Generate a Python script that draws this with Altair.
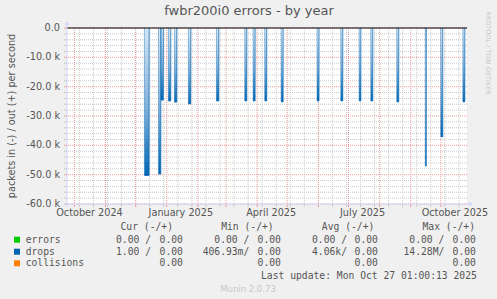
import altair as alt
import pandas as pd

# ---------------- data ----------------
spike_start = ["2024-12-09T17:00", "2024-12-23T17:00", "2024-12-26T02:00", "2025-01-02T14:00",
               "2025-01-08T14:00", "2025-01-22T12:00", "2025-02-19T10:00", "2025-03-19T16:00",
               "2025-03-28T00:00", "2025-04-08T14:00", "2025-04-24T22:00", "2025-05-30T16:00",
               "2025-06-23T08:00", "2025-07-11T14:00", "2025-07-23T05:00", "2025-08-18T02:00",
               "2025-09-15T12:00", "2025-09-30T22:00", "2025-10-22T22:00"]
spike_end = ["2024-12-14T10:00", "2024-12-26T02:00", "2024-12-28T14:00", "2025-01-05T00:00",
             "2025-01-11T00:00", "2025-01-24T22:00", "2025-02-21T20:00", "2025-03-21T16:00",
             "2025-03-30T00:00", "2025-04-10T14:00", "2025-04-26T22:00", "2025-06-01T16:00",
             "2025-06-25T08:00", "2025-07-13T08:00", "2025-07-25T05:00", "2025-08-20T02:00",
             "2025-09-16T12:00", "2025-10-02T22:00", "2025-10-24T22:00"]
drops_in = [-50200, -49700, -24500, -24800, -25200, -25800, -24800, -24800, -24800, -24800,
            -25100, -24800, -24800, -24800, -24800, -25100, -47000, -37000, -25100]

x_label_dates = ["2024-10-16", "2025-01-15", "2025-04-15", "2025-07-15", "2025-10-15"]
x_label_text = ["October 2024", "January 2025", "April 2025", "July 2025", "October 2025"]
y_ticks = [0, -10000, -20000, -30000, -40000, -50000, -60000]
y_label_text = ["0.0", "-10.0 k", "-20.0 k", "-30.0 k", "-40.0 k", "-50.0 k", "-60.0 k"]

legend_names = ["errors", "drops", "collisions"]
legend_colors = ["#00cc00", "#0066b3", "#ff8000"]
cur_in = ["0.00 /", "1.00 /", ""]
cur_out = ["0.00", "0.00", "0.00"]
min_in = ["0.00 /", "406.93m/", ""]
min_out = ["0.00", "0.00", "0.00"]
avg_in = ["0.00 /", "4.06k/", ""]
avg_out = ["0.00", "0.00", "0.00"]
max_in = ["0.00 /", "14.28M/", ""]
max_out = ["0.00", "0.00", "0.00"]
headers = ["Cur (-/+)", "Min (-/+)", "Avg (-/+)", "Max (-/+)"]
title_text = "fwbr200i0 errors - by year"
y_title = "packets in (-) / out (+) per second"
last_update = "Last update: Mon Oct 27 01:00:13 2025"
version_text = "Munin 2.0.73"
side_text = "RRDTOOL / TOBI OETIKER"

# ---------------- layout ----------------
W, H = 400, 176
L, T = 67, 28
FONT = "DejaVu Sans"
MONO = "DejaVu Sans Mono"
TXT = "#555555"
AXIS_C = "#CFD6F8"

x_domain = [alt.DateTime(year=2024, month=9, date=23, hours=15),
            alt.DateTime(year=2025, month=10, date=27, hours=1)]
xscale = alt.Scale(domain=x_domain)
yscale = alt.Scale(domain=[-60000, 0], nice=False, zero=False)

spikes = pd.DataFrame({"start": spike_start, "end": spike_end, "value": drops_in})
month_lines = pd.DataFrame({"d": pd.date_range("2024-10-01", "2025-10-01", freq="MS").strftime("%Y-%m-%d")})
week_lines = pd.DataFrame({"d": pd.date_range("2024-10-06", "2025-10-26", freq="14D").strftime("%Y-%m-%d")})
minor_y = pd.DataFrame({"v": [v for v in range(-58000, 0, 2000) if v % 10000 != 0]})
major_y = pd.DataFrame({"v": y_ticks, "label": y_label_text})
x_labels = pd.DataFrame({"d": x_label_dates, "label": x_label_text})
dummy = alt.Data(values=[{}])

layers = []

# grid
layers.append(alt.Chart(week_lines).mark_rule(color="#c8c8c8", strokeDash=[1, 1], strokeWidth=1)
              .encode(x=alt.X("d:T", scale=xscale, axis=None)))
layers.append(alt.Chart(minor_y).mark_rule(color="#c8c8c8", strokeDash=[1, 1], strokeWidth=1)
              .encode(y=alt.Y("v:Q", scale=yscale, axis=None)))
layers.append(alt.Chart(month_lines).mark_rule(color="#eb9a9a", strokeDash=[1, 1], strokeWidth=1)
              .encode(x=alt.X("d:T", scale=xscale, axis=None)))
layers.append(alt.Chart(major_y).mark_rule(color="#eb9a9a", strokeDash=[1, 1], strokeWidth=1)
              .encode(y=alt.Y("v:Q", scale=yscale, axis=None)))
# tick stubs outside the plot
layers.append(alt.Chart(week_lines).mark_rule(color="#c8c8c8")
              .encode(x=alt.X("d:T", scale=xscale, axis=None), y=alt.value(H), y2=alt.value(H + 3)))
layers.append(alt.Chart(month_lines).mark_rule(color="#eb9a9a")
              .encode(x=alt.X("d:T", scale=xscale, axis=None), y=alt.value(H), y2=alt.value(H + 3)))
layers.append(alt.Chart(minor_y).mark_rule(color="#c8c8c8")
              .encode(y=alt.Y("v:Q", scale=yscale, axis=None), x=alt.value(-3), x2=alt.value(0)))
layers.append(alt.Chart(major_y).mark_rule(color="#eb9a9a")
              .encode(y=alt.Y("v:Q", scale=yscale, axis=None), x=alt.value(-3), x2=alt.value(0)))

# axis labels
layers.append(alt.Chart(major_y).mark_text(font=FONT, fontSize=9.7, color=TXT, align="right", baseline="middle")
              .encode(y=alt.Y("v:Q", scale=yscale, axis=None), x=alt.value(-7), text="label:N"))
layers.append(alt.Chart(x_labels).mark_text(font=FONT, fontSize=9.7, color=TXT, align="center", baseline="middle")
              .encode(x=alt.X("d:T", scale=xscale, axis=None), y=alt.value(H + 9), text="label:N"))

# spikes
grad = alt.Gradient(gradient="linear", x1=0, x2=0, y1=0, y2=1,
                    stops=[alt.GradientStop(color="#d6e6f4", offset=0),
                           alt.GradientStop(color="#7fb0da", offset=0.55),
                           alt.GradientStop(color="#0066b3", offset=1)])
layers.append(alt.Chart(spikes).mark_rect(fill=grad).encode(
    x=alt.X("start:T", scale=xscale, axis=None),
    x2="end:T",
    y=alt.Y("value:Q", scale=yscale, axis=None),
    y2=alt.datum(0),
))
# outline of each spike (the in-line drawn by the graph)
layers.append(alt.Chart(spikes).mark_rule(color="#0066b3", strokeWidth=0.5, opacity=0.8).encode(
    x=alt.X("start:T", scale=xscale, axis=None),
    y=alt.Y("value:Q", scale=yscale, axis=None),
    y2=alt.datum(0),
))
layers.append(alt.Chart(spikes).mark_rule(color="#0066b3", strokeWidth=0.7).encode(
    x=alt.X("end:T", scale=xscale, axis=None),
    y=alt.Y("value:Q", scale=yscale, axis=None),
    y2=alt.datum(0),
))
layers.append(alt.Chart(spikes).mark_rule(color="#0066b3", strokeWidth=1.2).encode(
    x=alt.X("start:T", scale=xscale, axis=None),
    x2="end:T",
    y=alt.Y("value:Q", scale=yscale, axis=None),
))

# zero line
layers.append(alt.Chart(dummy).mark_rule(color="#000000", strokeWidth=1)
              .encode(y=alt.value(0), x=alt.value(0), x2=alt.value(W)))

# axis lines and arrows
layers.append(alt.Chart(dummy).mark_rule(color=AXIS_C)
              .encode(x=alt.value(0), y=alt.value(-4), y2=alt.value(H + 3)))
layers.append(alt.Chart(dummy).mark_rule(color=AXIS_C)
              .encode(y=alt.value(H), x=alt.value(-3), x2=alt.value(W + 3)))
layers.append(alt.Chart(dummy).mark_point(shape="triangle-up", filled=True, size=22, color=AXIS_C, opacity=1)
              .encode(x=alt.value(0), y=alt.value(-5)))
layers.append(alt.Chart(dummy).mark_point(shape="triangle-right", filled=True, size=22, color=AXIS_C, opacity=1)
              .encode(x=alt.value(W + 4), y=alt.value(H)))


def txt(s, x, y, font=MONO, size=9.7, color=TXT, align="left", baseline="middle", angle=0):
    return alt.Chart(dummy).mark_text(text=s, font=font, fontSize=size, color=color, align=align,
                                      baseline=baseline, angle=angle).encode(
        x=alt.value(x - L), y=alt.value(y - T))


# titles
layers.append(txt(title_text, 249, 15, font=FONT, size=13, align="center", baseline="alphabetic"))
layers.append(txt(y_title, 12, 116, font=FONT, size=9.7, align="center", angle=270))
layers.append(txt(side_text, 488, 53, font=FONT, size=6.5, color="#c8c8c8", align="center", angle=90))
layers.append(txt(version_text, 248, 288.5, font=FONT, size=8.5, color="#c8c8c8", align="center"))

# legend
for h, hx in zip(headers, [120.5, 221.2, 321.8, 422.5]):
    layers.append(txt(h, hx, 227))
row_y = [239.7, 251.7, 263.3]
for i in range(3):
    y = row_y[i]
    layers.append(alt.Chart(dummy).mark_square(color=legend_colors[i], size=36, opacity=1)
                  .encode(x=alt.value(17 - L), y=alt.value(y - T)))
    layers.append(txt(legend_names[i], 25.7, y))
    for vin, vout, rx, ox in [(cur_in[i], cur_out[i], 151, 159.6), (min_in[i], min_out[i], 249.3, 257.6),
                              (avg_in[i], avg_out[i], 347, 354.6), (max_in[i], max_out[i], 444.3, 452.6)]:
        if vin:
            layers.append(txt(vin, rx, y, align="right"))
        layers.append(txt(vout, ox, y))
layers.append(txt(last_update, 261, 275.5))

chart = alt.layer(*layers).properties(
    width=W, height=H,
    padding={"left": L, "top": T, "right": 497 - L - W, "bottom": 299 - T - H},
    autosize=alt.AutoSizeParams(type="none"),
    background="#f0f0f0",
).configure_view(fill="#ffffff", stroke=None)

chart.save("out.html", embed_options={"renderer": "svg", "actions": False})
